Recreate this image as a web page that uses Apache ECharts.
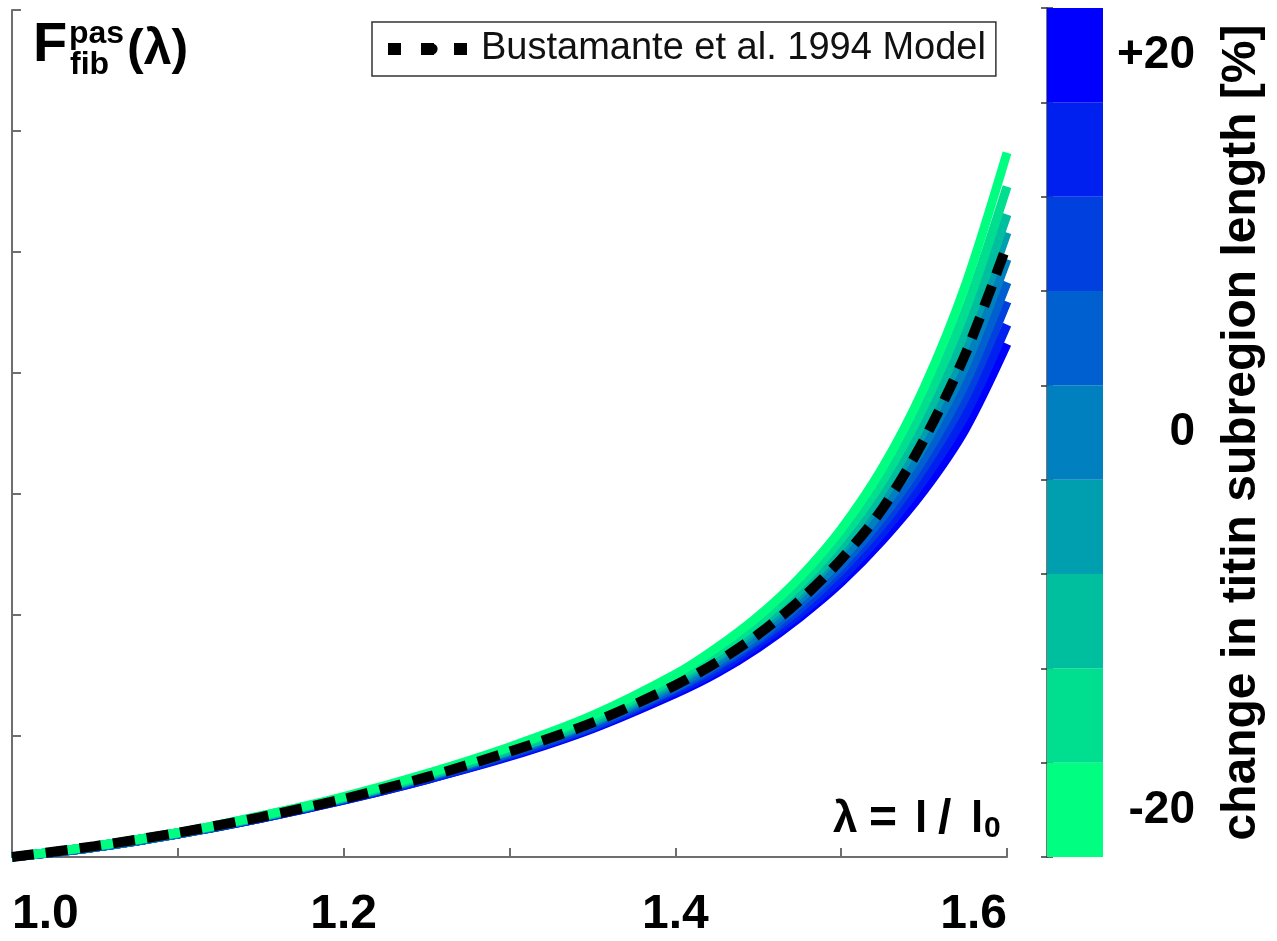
<!DOCTYPE html>
<html>
<head>
<meta charset="utf-8">
<script src="https://cdn.jsdelivr.net/npm/echarts@6/dist/echarts.min.js"></script>
<style>
  html, body { margin: 0; padding: 0; background: #fff; }
  #main { width: 1277px; height: 941px; }
</style>
</head>
<body>
<div id="main"></div>
<script>
// stretch lambda = l / l0
var lambda = [1.0, 1.05, 1.1, 1.15, 1.2, 1.25, 1.3, 1.35, 1.4, 1.425, 1.45, 1.475, 1.5, 1.525, 1.55, 1.575, 1.6];

// passive fibre force for each change of titin subregion length
var titinM20 = [0, 0.09, 0.20, 0.34, 0.50, 0.69, 0.91, 1.17, 1.51, 1.73, 1.99, 2.31, 2.71, 3.22, 3.88, 4.73, 5.82];
var titinM15 = [0, 0.09, 0.20, 0.34, 0.49, 0.68, 0.90, 1.15, 1.48, 1.69, 1.94, 2.25, 2.63, 3.11, 3.73, 4.52, 5.54];
var titinM10 = [0, 0.09, 0.20, 0.33, 0.49, 0.67, 0.88, 1.13, 1.46, 1.66, 1.91, 2.20, 2.57, 3.03, 3.61, 4.35, 5.31];
var titinM5  = [0, 0.09, 0.20, 0.33, 0.49, 0.67, 0.88, 1.12, 1.44, 1.64, 1.88, 2.17, 2.53, 2.97, 3.52, 4.23, 5.16];
var titin0   = [0, 0.08, 0.19, 0.33, 0.48, 0.66, 0.87, 1.11, 1.42, 1.61, 1.84, 2.13, 2.46, 2.88, 3.40, 4.06, 4.94];
var titinP5  = [0, 0.08, 0.19, 0.33, 0.48, 0.66, 0.86, 1.10, 1.40, 1.59, 1.81, 2.09, 2.41, 2.81, 3.30, 3.92, 4.75];
var titinP10 = [0, 0.08, 0.19, 0.32, 0.48, 0.65, 0.85, 1.08, 1.39, 1.57, 1.79, 2.05, 2.37, 2.75, 3.22, 3.80, 4.59];
var titinP15 = [0, 0.08, 0.19, 0.32, 0.47, 0.64, 0.84, 1.07, 1.37, 1.54, 1.76, 2.01, 2.31, 2.68, 3.12, 3.66, 4.40];
var titinP20 = [0, 0.08, 0.19, 0.32, 0.47, 0.64, 0.83, 1.06, 1.35, 1.52, 1.73, 1.98, 2.27, 2.62, 3.03, 3.54, 4.24];

// Bustamante et al. 1994 model
var bustamante = [0, 0.09, 0.20, 0.33, 0.48, 0.66, 0.87, 1.11, 1.42, 1.61, 1.84, 2.12, 2.46, 2.88, 3.45, 4.16, 5.06];

// colour bar levels [%] and colours (winter map)
var levels = ['-20', '-15', '-10', '-5', '0', '5', '10', '15', '20'];
var levelColors = ['#00ff80', '#00df8f', '#00bf9f', '#009faf', '#0080bf', '#0060cf', '#0040df', '#0020ef', '#0000ff'];
var curves = [titinM20, titinM15, titinM10, titinM5, titin0, titinP5, titinP10, titinP15, titinP20];

var xLabels = ['1.0', '1.2', '1.4', '1.6'];

var myChart = echarts.init(document.getElementById('main'));

function pairs(ys) {
  return ys.map(function (y, i) { return [lambda[i], y]; });
}

var series = [];
// draw +20 first so the -20 (green) curve lies on top
for (var i = curves.length - 1; i >= 0; i--) {
  series.push({
    name: levels[i],
    type: 'line',
    xAxisIndex: 0, yAxisIndex: 0,
    data: pairs(curves[i]),
    smooth: 0.3,
    symbol: 'none',
    z: 2,
    lineStyle: { color: levelColors[i], width: 9 }
  });
}
series.push({
  name: 'Bustamante et al. 1994 Model',
  type: 'line',
  xAxisIndex: 0, yAxisIndex: 0,
  data: pairs(bustamante),
  smooth: 0.3,
  symbol: 'none',
  z: 4,
  color: '#000',
  lineStyle: { color: '#000', width: 10, type: [22, 12] }
});
// colour bar
series.push({
  type: 'bar',
  xAxisIndex: 1, yAxisIndex: 1,
  barWidth: '100%',
  silent: true,
  data: levels.map(function (l, i) {
    return { value: 1, itemStyle: { color: levelColors[i] } };
  })
});

var axisGray = '#6e6e6e';
var font = '"Liberation Sans", Arial, sans-serif';

function txt(text, left, top, size, bold) {
  return {
    type: 'text', left: left, top: top,
    style: { text: text, fontSize: size, fontWeight: bold ? 'bold' : 'normal', fontFamily: font, fill: '#000' }
  };
}

var option = {
  backgroundColor: '#fff',
  animation: false,
  textStyle: { fontFamily: font },
  legend: {
    data: ['Bustamante et al. 1994 Model'],
    left: 372, top: 22,
    borderColor: '#333', borderWidth: 1.5,
    padding: [8, 10, 8, 10],
    itemWidth: 88, itemHeight: 14, itemGap: 6,
    lineStyle: { width: 12, type: [13, 20], color: '#000', cap: 'butt' },
    textStyle: { fontSize: 38, color: '#111', fontFamily: font }
  },
  grid: [
    { left: 12, top: 10, right: 270, bottom: 84 },
    { left: 1047, top: 8, width: 56, height: 849 }
  ],
  xAxis: [
    {
      gridIndex: 0, type: 'value', min: 1.0, max: 1.6, interval: 0.1,
      axisLine: { lineStyle: { color: axisGray, width: 2 } },
      axisTick: { inside: true, length: 9, lineStyle: { color: axisGray, width: 2 } },
      splitLine: { show: false },
      axisLabel: {
        margin: 34, fontSize: 48, fontWeight: 'bold', color: '#000',
        alignMinLabel: 'left', alignMaxLabel: 'right',
        formatter: function (v) {
          var s = v.toFixed(1);
          return xLabels.indexOf(s) >= 0 ? s : '';
        }
      }
    },
    {
      gridIndex: 1, type: 'value', min: 0, max: 1, position: 'bottom',
      axisLine: { lineStyle: { color: axisGray, width: 1.5 } },
      axisTick: { show: false }, axisLabel: { show: false }, splitLine: { show: false }
    },
    {
      gridIndex: 1, type: 'value', min: 0, max: 1, position: 'top',
      axisLine: { lineStyle: { color: axisGray, width: 1.5 } },
      axisTick: { show: false }, axisLabel: { show: false }, splitLine: { show: false }
    }
  ],
  yAxis: [
    {
      gridIndex: 0, type: 'value', min: 0, max: 7, interval: 1,
      axisLine: { show: true, lineStyle: { color: axisGray, width: 2 } },
      axisTick: { show: true, inside: true, length: 9, lineStyle: { color: axisGray, width: 2 } },
      axisLabel: { show: false },
      splitLine: { show: false }
    },
    {
      gridIndex: 1, type: 'category', data: levels, position: 'left',
      axisLine: { show: true, lineStyle: { color: axisGray, width: 1.5 } },
      axisTick: { show: true, inside: true, length: 6, interval: 0, lineStyle: { color: '#333', width: 1.5 } },
      axisLabel: { show: false }
    },
    {
      gridIndex: 1, type: 'category', data: levels, position: 'right',
      axisLine: { show: true, lineStyle: { color: axisGray, width: 1.5 } },
      axisTick: { show: true, inside: true, length: 6, interval: 0, lineStyle: { color: '#333', width: 1.5 } },
      axisLabel: {
        interval: 0, margin: 92, align: 'right',
        fontSize: 46, fontWeight: 'bold', color: '#000',
        formatter: function (v) {
          if (v === '20') return '+20';
          if (v === '0' || v === '-20') return v;
          return '';
        }
      },
      name: 'change in titin subregion length [%]',
      nameLocation: 'middle', nameRotate: 90, nameGap: 115,
      nameTextStyle: { fontSize: 48, fontWeight: 'bold', color: '#000' }
    }
  ],
  graphic: [
    // y axis title F^pas_fib(λ)
    txt('F', 33, 18, 56, true),
    txt('pas', 69, 18, 32, true),
    txt('fib', 70, 49, 32, true),
    txt('(λ)', 127, 25, 50, true),
    // x axis title λ = l / l0
    txt('λ', 833, 798, 44, true),
    txt('=', 869, 796, 48, true),
    txt('l', 915, 798, 44, true),
    txt('/', 938, 796, 48, true),
    txt('l', 971, 798, 44, true),
    txt('0', 984, 814, 30, true)
  ],
  series: series
};

myChart.setOption(option);
</script>
</body>
</html>
